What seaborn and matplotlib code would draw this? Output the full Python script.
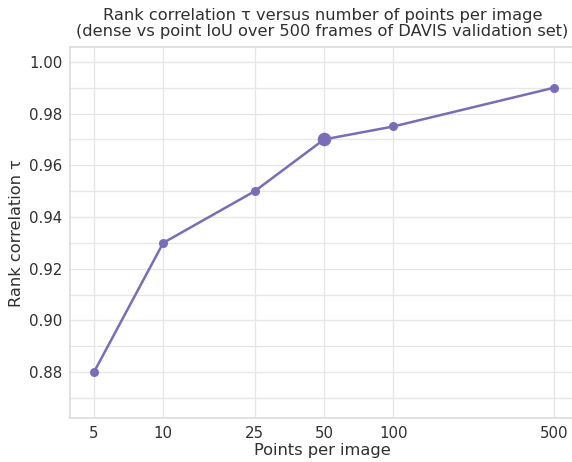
"""Rank correlation of dense vs point IoU as a function of points per image."""

import matplotlib
matplotlib.use("Agg")
import matplotlib.pyplot as plt
from matplotlib.ticker import FixedLocator, NullLocator, MultipleLocator, FuncFormatter
import pandas as pd
import seaborn as sns

# values
points_per_image = [5, 10, 25, 50, 100, 500]
rank_tau = [0.88, 0.93, 0.95, 0.97, 0.975, 0.99]
highlight_points = [50]

LINE_COLOR = "#7b6cb7"
TEXT_COLOR = "#303030"

sns.set_theme(style="whitegrid")
plt.rcParams["font.family"] = ["DejaVu Sans"]

df = pd.DataFrame({"points": points_per_image, "tau": rank_tau})
df_hl = df[df["points"].isin(highlight_points)]

fig = plt.figure(figsize=(5.72, 4.62), dpi=100)
ax = fig.add_axes([0.123, 0.0952, 0.881, 0.8024])

sns.lineplot(data=df, x="points", y="tau", color=LINE_COLOR, linewidth=1.8,
             marker="o", markersize=6.5, markeredgewidth=0, ax=ax)
sns.scatterplot(data=df_hl, x="points", y="tau", color=LINE_COLOR, s=95,
                linewidth=0, ax=ax, zorder=5)

ax.set_xscale("log")
ax.xaxis.set_major_locator(FixedLocator(points_per_image))
ax.xaxis.set_minor_locator(NullLocator())
ax.xaxis.set_major_formatter(FuncFormatter(lambda v, _: f"{v:g}"))
ax.set_xlim(3.95, 611)

ax.set_ylim(0.8623, 1.0056)
ax.yaxis.set_major_locator(MultipleLocator(0.02))
ax.yaxis.set_minor_locator(MultipleLocator(0.01))
ax.yaxis.set_major_formatter(FuncFormatter(lambda v, _: f"{v:.2f}"))
ax.grid(which="minor", axis="y", color="#e6e6e6", linewidth=1)
ax.grid(which="major", color="#e6e6e6", linewidth=1)

ax.tick_params(axis="both", which="both", length=0, labelsize=10.8,
               colors=TEXT_COLOR, pad=5.5)
ax.set_xlabel("Points per image", fontsize=11.7, color=TEXT_COLOR, labelpad=2)
ax.set_ylabel("Rank correlation τ", fontsize=11.7, color=TEXT_COLOR, labelpad=3.5)
ax.set_title("Rank correlation τ versus number of points per image\n"
             "(dense vs point IoU over 500 frames of DAVIS validation set)",
             fontsize=11.7, color=TEXT_COLOR, pad=8, linespacing=1.12)

for spine in ax.spines.values():
    spine.set_color("#dddddd")

fig.savefig("out.png", dpi=100)
